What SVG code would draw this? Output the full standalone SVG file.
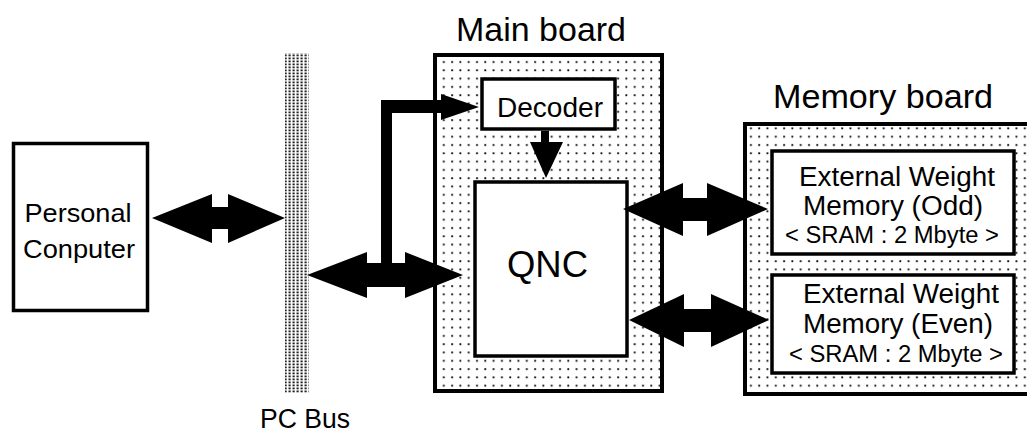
<svg xmlns="http://www.w3.org/2000/svg" width="1027" height="432" viewBox="0 0 1027 432">
<defs>
<pattern id="dots" width="8.3" height="8.3" patternUnits="userSpaceOnUse">
<rect width="8.3" height="8.3" fill="#fff"/>
<rect x="3" y="3" width="1.8" height="1.8" fill="#000"/>
</pattern>
<pattern id="bus" width="4" height="3" patternUnits="userSpaceOnUse">
<rect width="4" height="3" fill="#fff"/>
<rect x="0.5" y="0.5" width="2.2" height="1.8" fill="#222"/>
</pattern>
<style>
.box{fill:#fff;stroke:#000;stroke-width:3.5}
.board{fill:url(#dots);stroke:#000;stroke-width:4}
text{font-family:"Liberation Sans",Arial,sans-serif;fill:#000}
.c{text-anchor:middle}
.arr{fill:#000;stroke:none}
</style>
</defs>
<rect width="1027" height="432" fill="#fff"/>
<g id="pc-bus">
<rect x="285" y="53" width="24" height="340" fill="url(#bus)"/>
<text x="260" y="428" font-size="27" textLength="90" lengthAdjust="spacingAndGlyphs">PC Bus</text>
</g>
<g id="personal-computer">
<rect class="box" x="13.5" y="143.5" width="134" height="167"/>
<text class="c" x="78" y="222" font-size="26" textLength="107" lengthAdjust="spacingAndGlyphs">Personal</text>
<text class="c" x="79" y="258" font-size="26" textLength="112" lengthAdjust="spacingAndGlyphs">Conputer</text>
</g>
<g id="main-board">
<text x="456" y="41" font-size="34" textLength="170" lengthAdjust="spacingAndGlyphs">Main board</text>
<rect class="board" x="435" y="55" width="227" height="336"/>
</g>
<g id="decoder">
<rect class="box" x="482" y="79" width="133" height="50"/>
<text class="c" x="550" y="117" font-size="28" textLength="106" lengthAdjust="spacingAndGlyphs">Decoder</text>
</g>
<g id="qnc">
<rect class="box" x="475" y="182" width="152" height="174" stroke-width="4"/>
<text class="c" x="547.5" y="277" font-size="36" textLength="81" lengthAdjust="spacingAndGlyphs">QNC</text>
</g>
<g id="memory-board">
<text x="773" y="108" font-size="34" textLength="220" lengthAdjust="spacingAndGlyphs">Memory board</text>
<rect class="board" x="745" y="124" width="290" height="270"/>
</g>
<g id="memory-odd">
<rect class="box" x="772" y="151" width="242" height="103"/>
<text x="799" y="186" font-size="27" textLength="196" lengthAdjust="spacingAndGlyphs">External Weight</text>
<text x="803" y="215" font-size="27" textLength="180" lengthAdjust="spacingAndGlyphs">Memory (Odd)</text>
<text x="785" y="243" font-size="23" textLength="214" lengthAdjust="spacingAndGlyphs">&lt; SRAM : 2 Mbyte &gt;</text>
</g>
<g id="memory-even">
<rect class="box" x="772" y="275" width="242" height="98"/>
<text x="803" y="303" font-size="27" textLength="196" lengthAdjust="spacingAndGlyphs">External Weight</text>
<text x="803" y="333" font-size="27" textLength="190" lengthAdjust="spacingAndGlyphs">Memory (Even)</text>
<text x="789" y="362" font-size="23" textLength="214" lengthAdjust="spacingAndGlyphs">&lt; SRAM : 2 Mbyte &gt;</text>
</g>
<g id="connectors">
<polygon class="arr" points="152,218 212,194 212,207 228,207 228,194 285,218 228,243 228,229 212,229 212,243"/>
<polygon class="arr" points="307,275 367,252 367,263 381,263 381,100 441,100 441,94 479,107 441,120 441,113 392,113 392,263 405,263 405,252 463,275 405,298 405,287 367,287 367,298"/>
<polygon class="arr" points="541,131 549,131 549,142 563,142 546,178 530,142 541,142"/>
<polygon class="arr" points="623,209 683,183 683,198 707,198 707,183 768,209 707,236 707,221 683,221 683,236"/>
<polygon class="arr" points="629,320 684,294 684,309 711,309 711,294 769,320 711,347 711,332 684,332 684,347"/>
</g>
</svg>
